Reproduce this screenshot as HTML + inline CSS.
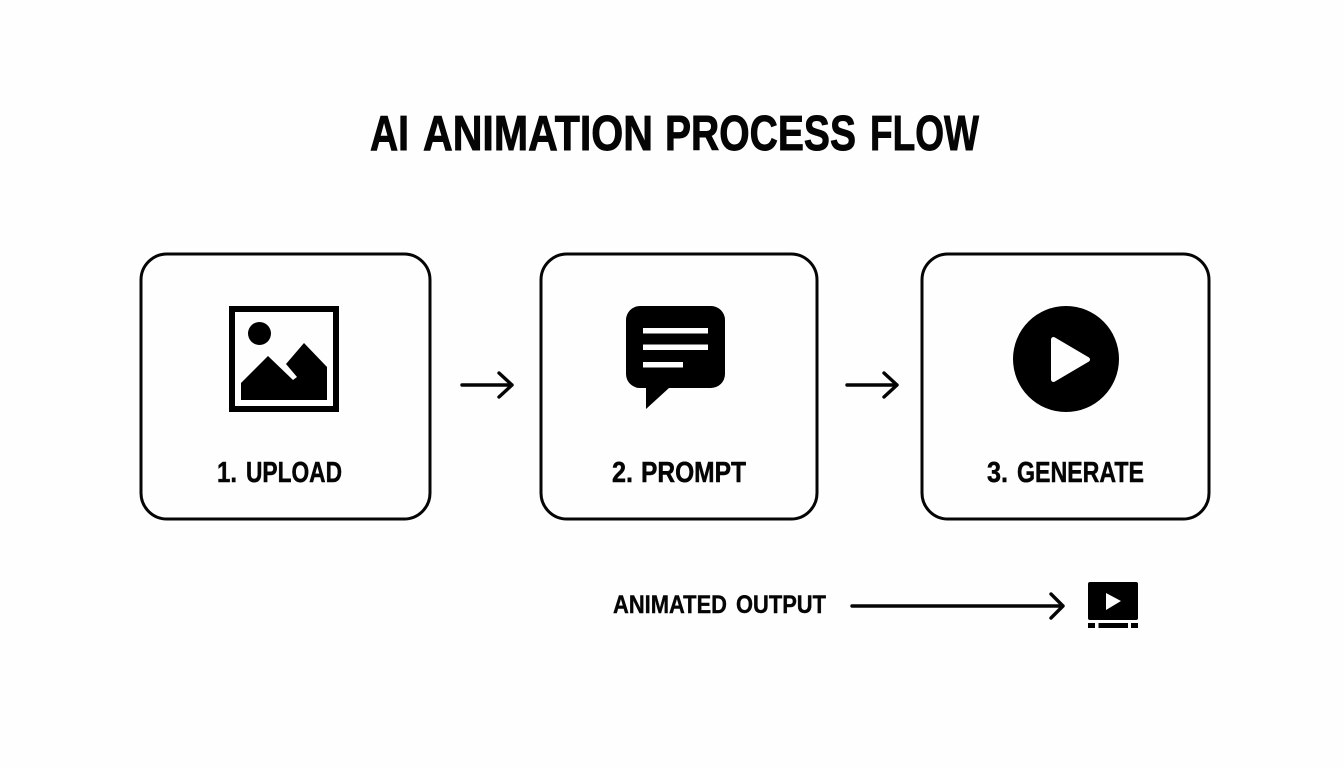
<!DOCTYPE html>
<html lang="en">
<head>
<meta charset="utf-8">
<title>AI Animation Process Flow</title>
<style>
html,body{margin:0;padding:0;background:#fefefe;width:1344px;height:768px;overflow:hidden}
svg{display:block}
text{font-family:"Liberation Sans",sans-serif;font-weight:700;fill:#050505;stroke:#050505}
</style>
</head>
<body>
<svg width="1344" height="768" viewBox="0 0 1344 768" xmlns="http://www.w3.org/2000/svg">
<rect width="1344" height="768" fill="#fefefe"/>
<g font-size="49" stroke-width="0.9" lengthAdjust="spacingAndGlyphs">
<text x="370" y="150" font-size="49" stroke-width="0.9" textLength="39" lengthAdjust="spacingAndGlyphs">AI</text>
<text x="423" y="150" font-size="49" stroke-width="0.9" textLength="230" lengthAdjust="spacingAndGlyphs">ANIMATION</text>
<text x="665" y="150" font-size="49" stroke-width="0.9" textLength="191" lengthAdjust="spacingAndGlyphs">PROCESS</text>
<text x="870" y="150" font-size="49" stroke-width="0.9" textLength="109" lengthAdjust="spacingAndGlyphs">FLOW</text>
</g>

<g fill="none" stroke="#050505" stroke-width="3">
<rect x="141" y="254" width="289" height="265" rx="26"/>
<rect x="541" y="254" width="276" height="265" rx="26"/>
<rect x="922" y="254" width="287" height="265" rx="26"/>
</g>

<!-- image icon -->
<rect x="232" y="309" width="104" height="100" fill="none" stroke="#000" stroke-width="6"/>
<circle cx="259.5" cy="333.5" r="11.5" fill="#000"/>
<polygon points="241,400 241,383 268,356 293,380 297,377 286,364 304,343 327,367 327,400" fill="#000"/>

<!-- chat icon -->
<path d="M640,306H711A14,14 0 0 1 725,320V374A14,14 0 0 1 711,388H669L646,409V388H640A14,14 0 0 1 626,374V320A14,14 0 0 1 640,306Z" fill="#000"/>
<rect x="643" y="328" width="65" height="5.5" fill="#fefefe"/>
<rect x="643" y="344.5" width="65" height="5.5" fill="#fefefe"/>
<rect x="643" y="362" width="40" height="5.5" fill="#fefefe"/>

<!-- play icon -->
<circle cx="1066" cy="359" r="53" fill="#000"/>
<path d="M1053.5,339.5L1087.5,359.5L1053.5,379.5Z" fill="#fefefe" stroke="#fefefe" stroke-width="5" stroke-linejoin="round"/>

<text x="217" y="482" font-size="29" stroke-width="0.5" textLength="20" lengthAdjust="spacingAndGlyphs">1.</text>
<text x="246" y="482" font-size="29" stroke-width="0.5" textLength="96" lengthAdjust="spacingAndGlyphs">UPLOAD</text>
<text x="612" y="482" font-size="29" stroke-width="0.5" textLength="21" lengthAdjust="spacingAndGlyphs">2.</text>
<text x="641" y="482" font-size="29" stroke-width="0.5" textLength="105" lengthAdjust="spacingAndGlyphs">PROMPT</text>
<text x="987" y="482" font-size="29" stroke-width="0.5" textLength="21" lengthAdjust="spacingAndGlyphs">3.</text>
<text x="1017" y="482" font-size="29" stroke-width="0.5" textLength="127" lengthAdjust="spacingAndGlyphs">GENERATE</text>

<!-- arrows -->
<g fill="none" stroke="#050505" stroke-width="3.4" stroke-linecap="round" stroke-linejoin="round">
<path d="M462,385H512M499,373L512,385L499,397"/>
<path d="M847,385H897M884,373L897,385L884,397"/>
<path d="M852,606H1063M1051,594L1063,606L1051,618"/>
</g>

<text x="613" y="613" font-size="25" stroke-width="0.4" textLength="114" lengthAdjust="spacingAndGlyphs">ANIMATED</text>
<text x="736" y="613" font-size="25" stroke-width="0.4" textLength="90" lengthAdjust="spacingAndGlyphs">OUTPUT</text>

<!-- video icon -->
<rect x="1088" y="582" width="50" height="38" rx="2" fill="#000"/>
<polygon points="1106,593 1121,601 1106,610" fill="#fefefe"/>
<rect x="1088" y="623" width="7" height="5" fill="#000"/>
<rect x="1098.5" y="623" width="29.5" height="5" fill="#000"/>
<rect x="1131" y="623" width="7" height="5" fill="#000"/>
</svg>
</body>
</html>
